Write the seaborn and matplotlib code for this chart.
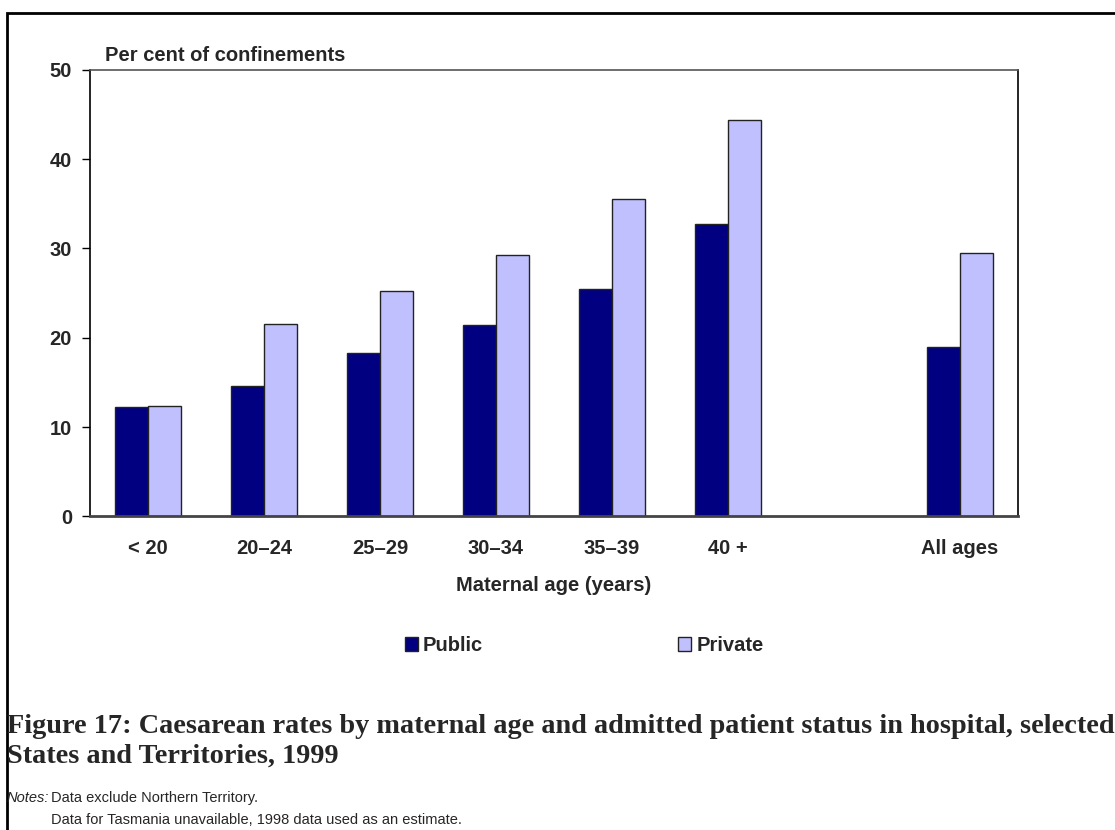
import matplotlib.pyplot as plt
import matplotlib.patches as mpatches
import pandas as pd
import seaborn as sns

# data
age_groups = ["< 20", "20–24", "25–29", "30–34", "35–39", "40 +", "All ages"]
public = [12.2, 14.6, 18.3, 21.4, 25.5, 32.7, 19.0]
private = [12.3, 21.5, 25.2, 29.3, 35.5, 44.4, 29.5]
slot_order = ["< 20", "20–24", "25–29", "30–34", "35–39", "40 +", " ", "All ages"]

df = pd.DataFrame({
    "age": age_groups * 2,
    "status": ["Public"] * len(public) + ["Private"] * len(private),
    "rate": public + private,
})

sns.set_style("white")
plt.rcParams["font.family"] = ["Liberation Sans", "DejaVu Sans"]
FS = 14.5

fig = plt.figure(figsize=(11.15, 8.3), dpi=100)
ax = fig.add_axes([0.0807, 0.378, 0.8323, 0.5377])

sns.barplot(data=df, x="age", y="rate", hue="status", order=slot_order,
            hue_order=["Public", "Private"],
            palette={"Public": "#000080", "Private": "#C0C0FF"},
            width=0.57, edgecolor="#222222", linewidth=1.0,
            saturation=1, ax=ax, legend=False)

ax.set_ylim(0, 50)
ax.set_yticks(range(0, 51, 10))
ax.set_xlim(-0.5, 7.5)
ax.tick_params(axis="y", direction="out", length=6, width=1, color="black",
               left=True, labelsize=FS, pad=7)
ax.tick_params(axis="x", bottom=False, labelsize=FS, pad=13)
for lab in ax.get_xticklabels() + ax.get_yticklabels():
    lab.set_fontweight("bold")

ax.set_xlabel("Maternal age (years)", fontsize=FS, fontweight="bold", labelpad=13)
ax.set_ylabel("")
ax.text(15 / 928, 1.012, "Per cent of confinements", transform=ax.transAxes,
        fontsize=FS, fontweight="bold", ha="left", va="bottom")

for side in ["left", "right", "top", "bottom"]:
    ax.spines[side].set_visible(True)
    ax.spines[side].set_linewidth(1.2)
ax.spines["left"].set_color("black")
ax.spines["right"].set_color("black")
ax.spines["top"].set_color("#555555")
ax.spines["bottom"].set_color("#444444")
ax.spines["bottom"].set_linewidth(2)

handles = [mpatches.Patch(facecolor="#000080", edgecolor="#222222", label="Public"),
           mpatches.Patch(facecolor="#C0C0FF", edgecolor="#222222", label="Private")]
fig.legend(handles=handles, loc="center", bbox_to_anchor=(0.524, 0.222), ncol=2,
           frameon=False, columnspacing=9.7, handlelength=0.65, handleheight=0.65,
           handletextpad=0.25, prop={"family": "Liberation Sans", "weight": "bold", "size": FS})

# caption
fig.text(7 / 1115, 1 - 726 / 830,
         "Figure 17: Caesarean rates by maternal age and admitted patient status in hospital, selected",
         fontsize=20.3, fontweight="bold", family="Liberation Serif", ha="left", va="center")
fig.text(7 / 1115, 1 - 756 / 830, "States and Territories, 1999",
         fontsize=20.3, fontweight="bold", family="Liberation Serif", ha="left", va="center")

fig.text(7 / 1115, 1 - 798 / 830, "Notes:", fontsize=10.5, style="italic",
         ha="left", va="center")
fig.text(51 / 1115, 1 - 798 / 830, "Data exclude Northern Territory.", fontsize=10.5,
         ha="left", va="center")
fig.text(51 / 1115, 1 - 820 / 830, "Data for Tasmania unavailable, 1998 data used as an estimate.",
         fontsize=10.5, ha="left", va="center")

# outer frame, running off the right and bottom of the page
frame = mpatches.Rectangle((7 / 1115, -0.05), 1.1, 1 - 13 / 830 + 0.05,
                           transform=fig.transFigure, fill=False,
                           edgecolor="black", linewidth=2, clip_on=False)
fig.patches.append(frame)

fig.savefig("out.png", dpi=100)
